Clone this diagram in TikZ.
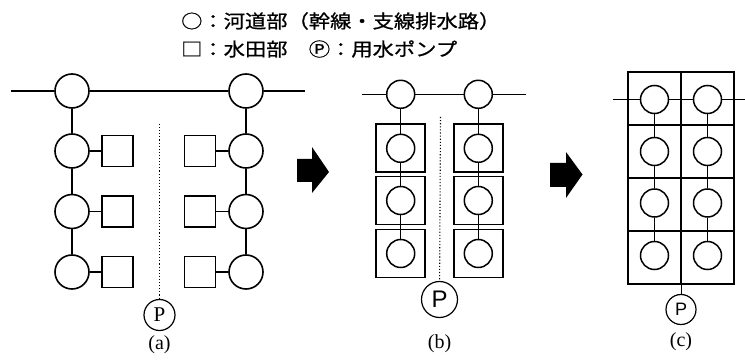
\documentclass[tikz,border=0pt]{standalone}
\usepackage{fontspec}
\setmainfont{Liberation Serif}
\newfontfamily\jp[FakeStretch=1.15,FakeBold=0.8]{Noto Sans CJK JP}
\newfontfamily\lsans{Liberation Sans}
\begin{document}
\begin{tikzpicture}[x=1pt,y=-1pt,
  ln/.style={line width=1.1pt},
  ca/.style={circle,draw,line width=1.6pt,minimum size=34pt,inner sep=0pt},
  cb/.style={circle,draw,line width=1.5pt,minimum size=28pt,inner sep=0pt},
  sqa/.style={rectangle,draw,line width=1.6pt,minimum size=31pt,inner sep=0pt},
  sqb/.style={rectangle,draw,line width=1.6pt,minimum width=49pt,minimum height=48pt,inner sep=0pt},
  cell/.style={rectangle,draw,line width=2pt,minimum size=53pt,inner sep=0pt},
  pumpa/.style={circle,draw,line width=1.2pt,minimum size=31pt,inner sep=0pt,font=\fontsize{21}{21}\selectfont},
  pumpb/.style={circle,draw,line width=1.2pt,minimum size=36pt,inner sep=0pt,font=\lsans\fontsize{24}{24}\selectfont},
  pumpc/.style={circle,draw,line width=1.2pt,minimum size=30pt,inner sep=0pt,font=\lsans\fontsize{18}{18}\selectfont},
  caplabel/.style={font=\fontsize{20}{20}\selectfont},
  legend/.style={anchor=west,inner sep=0pt,font=\jp\fontsize{18.5}{18.5}\selectfont},
  dotline/.style={line width=1.1pt,dotted},
  barrow/.style={fill=black}
]
\useasboundingbox (0,0) rectangle (745,363);
% legend
\node[legend] (leg1) at (181,21) {○：河道部（幹線・支線排水路）};
\node[legend] (leg2) at (181,49) {□：水田部　Ⓟ：用水ポンプ};

% ---------- panel (a)
\coordinate (aL) at (11,91);
\coordinate (aR) at (305,91);
\node[ca] (a1) at (72,91) {};
\node[ca] (a2) at (246,91) {};
\node[ca] (a11) at (72,151) {};
\node[ca] (a12) at (72,211.5) {};
\node[ca] (a13) at (72,272) {};
\node[ca] (a21) at (246,151) {};
\node[ca] (a22) at (246,211.5) {};
\node[ca] (a23) at (246,272) {};
\node[sqa] (s11) at (117.5,151) {};
\node[sqa] (s12) at (117.5,211.5) {};
\node[sqa] (s13) at (117.5,272) {};
\node[sqa] (s21) at (200,151) {};
\node[sqa] (s22) at (200,211.5) {};
\node[sqa] (s23) at (200,272) {};
\draw[ln] (aL) -- (a1) -- (a2) -- (aR);
\draw[ln] (a1) -- (a11) -- (a12) -- (a13);
\draw[ln] (a2) -- (a21) -- (a22) -- (a23);
\draw[ln] (a11) -- (s11);
\draw[ln] (a12) -- (s12);
\draw[ln] (a13) -- (s13);
\draw[ln] (a21) -- (s21);
\draw[ln] (a22) -- (s22);
\draw[ln] (a23) -- (s23);
\node[pumpa] (pa) at (159.5,315) {P};
\coordinate (pat) at (159.5,124);
\draw[dotline] (pat) -- (pa);
\node[caplabel] (la) at (159.5,345) {(a)};

% arrow 1
\fill[barrow] (297,159) -- (312,159) -- (312,147) -- (329,172) -- (312,193) -- (312,182) -- (297,182) -- cycle;

% ---------- panel (b)
\coordinate (bL) at (362,94.3);
\coordinate (bR) at (526,94.3);
\node[cb] (b1) at (400.7,94.3) {};
\node[cb] (b2) at (478.3,94.3) {};
\node[sqb] (t11) at (400.7,148.3) {};
\node[sqb] (t12) at (400.7,200.5) {};
\node[sqb] (t13) at (400.7,253.5) {};
\node[sqb] (t21) at (478.3,148.3) {};
\node[sqb] (t22) at (478.3,200.5) {};
\node[sqb] (t23) at (478.3,253.5) {};
\node[cb] (b11) at (400.7,148.3) {};
\node[cb] (b12) at (400.7,200.5) {};
\node[cb] (b13) at (400.7,253.5) {};
\node[cb] (b21) at (478.3,148.3) {};
\node[cb] (b22) at (478.3,200.5) {};
\node[cb] (b23) at (478.3,253.5) {};
\draw[ln] (bL) -- (b1) -- (b2) -- (bR);
\draw[ln] (b1) -- (b11) -- (b12) -- (b13);
\draw[ln] (b2) -- (b21) -- (b22) -- (b23);
\node[pumpb] (pb) at (439.5,299.5) {P};
\coordinate (pbt) at (440.5,117);
\draw[dotline] (pbt) -- (pb);
\node[caplabel] (lb) at (439.5,344) {(b)};

% arrow 2
\fill[barrow] (550,163) -- (566,163) -- (566,152) -- (582.5,174.5) -- (566,198) -- (566,187) -- (550,187) -- cycle;

% ---------- panel (c)
\node[cell] (g11) at (654.5,98.5) {};
\node[cell] (g12) at (654.5,151.5) {};
\node[cell] (g13) at (654.5,204.5) {};
\node[cell] (g14) at (654.5,257.5) {};
\node[cell] (g21) at (707.5,98.5) {};
\node[cell] (g22) at (707.5,151.5) {};
\node[cell] (g23) at (707.5,204.5) {};
\node[cell] (g24) at (707.5,257.5) {};
\node[cb] (c11) at (654.5,99.5) {};
\node[cb] (c12) at (654.5,151.5) {};
\node[cb] (c13) at (654.5,203) {};
\node[cb] (c14) at (654.5,255.5) {};
\node[cb] (c21) at (707.5,99.5) {};
\node[cb] (c22) at (707.5,151.5) {};
\node[cb] (c23) at (707.5,203) {};
\node[cb] (c24) at (707.5,255.5) {};
\coordinate (cL) at (613,99.5);
\coordinate (cR) at (745,99.5);
\draw[line width=0.8pt] (cL) -- (c11) -- (c21) -- (cR);
\draw[line width=0.9pt] (c11) -- (c12) -- (c13) -- (c14);
\draw[line width=0.9pt] (c21) -- (c22) -- (c23) -- (c24);
\node[pumpc] (pc) at (681,309.5) {P};
\coordinate (cb0) at (681,284);
\draw[line width=0.8pt] (cb0) -- (pc);
\node[caplabel] (lc) at (681,342) {(c)};
\end{tikzpicture}
\end{document}
